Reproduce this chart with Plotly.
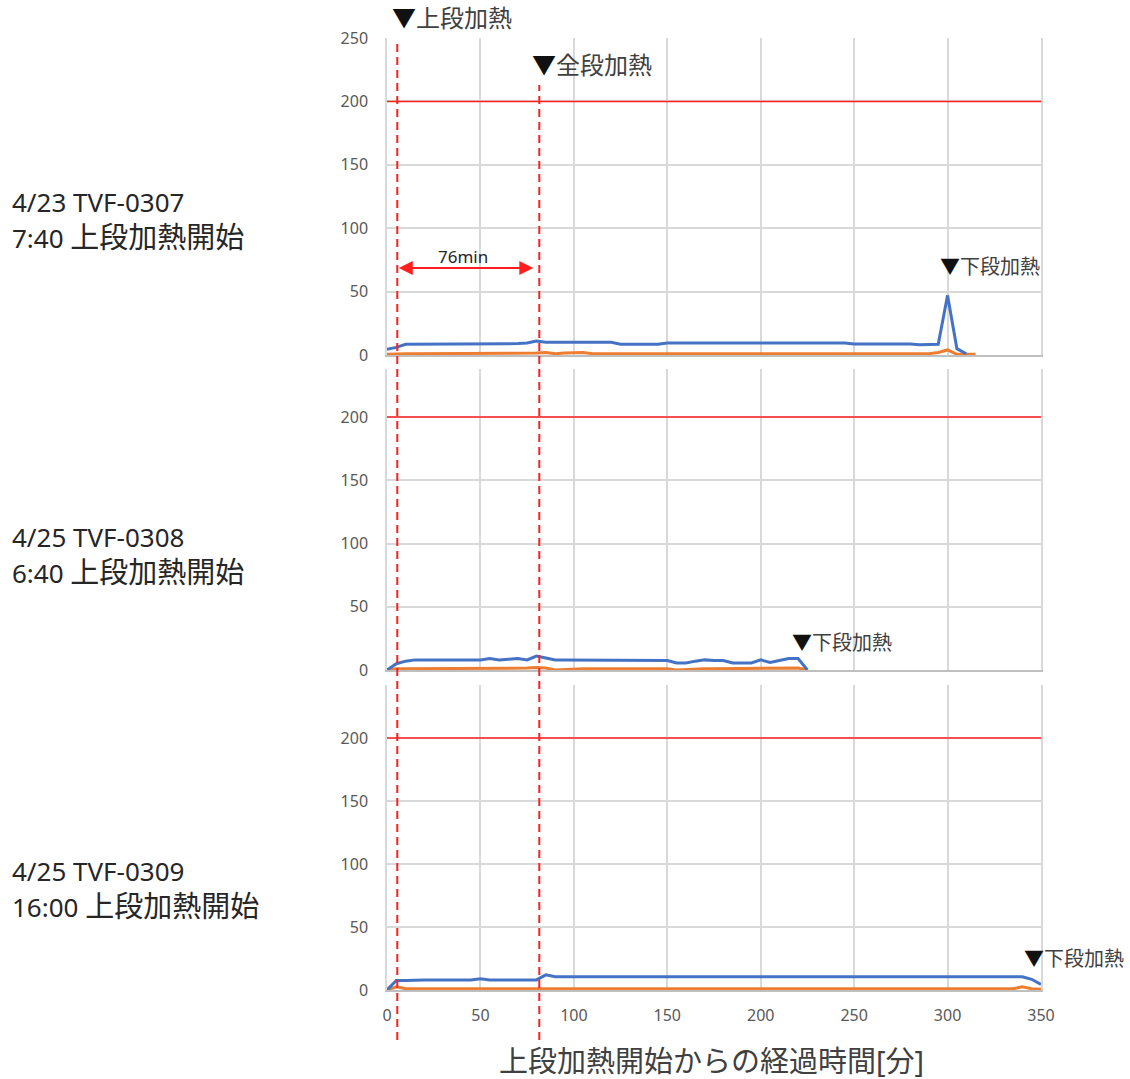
import plotly.graph_objects as go

# ---- measured series (minutes since top-stage heating started) ----
t_0307 = [0, 5, 10, 15, 20, 25, 30, 35, 40, 45, 50, 55, 60, 65, 70, 75,
          80, 85, 90, 95, 100, 105, 110, 115, 120, 125, 130, 135, 140, 145,
          150, 155, 160, 165, 170, 175, 180, 185, 190, 195, 200, 205, 210,
          215, 220, 225, 230, 235, 240, 245, 250, 255, 260, 265, 270, 275,
          280, 285, 290, 295, 300, 305, 310, 315]
blue_0307 = [4.5, 6, 8.5, 8.5, 9, 9, 9, 9, 9, 9, 9, 9, 9, 9, 9, 9.5,
             11, 10, 10, 10, 10, 10, 10, 10, 10, 8.5, 8.5, 8.5, 8.5, 8.5,
             9.5, 9.5, 9.5, 9.5, 9.5, 9.5, 9.5, 9.5, 9.5, 9.5, 9.5, 9.5, 9.5,
             9.5, 9.5, 9.5, 9.5, 9.5, 9.5, 9.5, 8.7, 8.7, 8.7, 8.7, 8.7, 8.7,
             8.7, 8, 8, 8.5, 47, 5, 1, None]
orange_0307 = [0.5, 1, 1, 1, 1, 1, 1, 1, 1, 1, 1, 1, 1, 1, 1, 1,
               1.5, 2, 1, 1.5, 2, 2, 1, 1, 1, 1, 1, 1, 1, 1,
               1, 1, 1, 1, 1, 1, 1, 1, 1, 1, 1, 1, 1,
               1, 1, 1, 1, 1, 1, 1, 1, 1, 1, 1, 1, 1,
               1, 1, 1, 2, 4, 0.5, 0.5, 0.5]

t_0308 = [0, 5, 10, 15, 20, 25, 30, 35, 40, 45, 50, 55, 60, 65, 70, 75,
          80, 85, 90, 95, 100, 105, 110, 115, 120, 125, 130, 135, 140, 145,
          150, 155, 160, 165, 170, 175, 180, 185, 190, 195, 200, 205, 210,
          215, 220, 225]
blue_0308 = [0, 5, 7, 8, 8, 8, 8, 8, 8, 8, 8, 9, 8, 8.5, 9, 8,
             11, 9.5, 8, 8, 8, 7.5, 7.5, 7.5, 7.5, 7.5, 7.5, 7.5, 7.5, 7.5,
             7.5, 5.5, 5.5, 7, 8, 7.5, 7.5, 5.5, 5.5, 5.5, 8, 6, 7.5,
             9, 9, 0]
orange_0308 = [0, 1, 1, 1, 1, 1, 1, 1, 1, 1, 1, 1, 1, 1, 1, 1.5,
               2, 1.5, 0, 0.5, 1, 1, 1, 1, 1, 1, 1, 1, 1, 1,
               1, 0, 0.5, 1, 1, 1, 1, 1, 1, 1, 1, 1, 1,
               1.5, 1.5, 0]

t_0309 = [0, 5, 10, 15, 20, 25, 30, 35, 40, 45, 50, 55, 60, 65, 70, 75,
          80, 85, 90, 95, 100, 105, 110, 115, 120, 125, 130, 135, 140, 145,
          150, 155, 160, 165, 170, 175, 180, 185, 190, 195, 200, 205, 210,
          215, 220, 225, 230, 235, 240, 245, 250, 255, 260, 265, 270, 275,
          280, 285, 290, 295, 300, 305, 310, 315, 320, 325, 330, 335, 340,
          345, 350]
blue_0309 = [0, 7.5, 7.5, 8, 8, 8, 8, 8, 8, 8, 9, 8, 8, 8, 8, 8,
             8, 12, 10.5, 10.5, 10.5, 10.5, 10.5, 10.5, 10.5, 10.5, 10.5, 10.5, 10.5, 10.5,
             10.5, 10.5, 10.5, 10.5, 10.5, 10.5, 10.5, 10.5, 10.5, 10.5, 10.5, 10.5, 10.5,
             10.5, 10.5, 10.5, 10.5, 10.5, 10.5, 10.5, 10.5, 10.5, 10.5, 10.5, 10.5, 10.5,
             10.5, 10.5, 10.5, 10.5, 10.5, 10.5, 10.5, 10.5, 10.5, 10.5, 10.5, 10.5, 10.5,
             8.5, 4.5]
orange_0309 = [0, 2.5, 1, 1, 1, 1, 1, 1, 1, 1, 1, 1, 1, 1, 1, 1,
               1, 1, 1, 1, 1, 1, 1, 1, 1, 1, 1, 1, 1, 1,
               1, 1, 1, 1, 1, 1, 1, 1, 1, 1, 1, 1, 1,
               1, 1, 1, 1, 1, 1, 1, 1, 1, 1, 1, 1, 1,
               1, 1, 1, 1, 1, 1, 1, 1, 1, 1, 1, 1, 2.5,
               1, 0.5]

# ---- reference values ----
LIMIT = 200
LIMIT_X = [0, 350]
T_TOP = 5.5            # top-stage heating
GAP_MIN = 76           # top -> all-stage heating
T_ALL = T_TOP + GAP_MIN

run_ids = ["4/23 TVF-0307", "4/25 TVF-0308", "4/25 TVF-0309"]
run_starts = ["7:40", "6:40", "16:00"]
START_TEXT = "上段加熱開始"
y_tops = [250, 238, 242]
y_ticks = [[0, 50, 100, 150, 200, 250], [0, 50, 100, 150, 200], [0, 50, 100, 150, 200]]
x_ticks = [0, 50, 100, 150, 200, 250, 300, 350]

BLUE = "#4472C4"
ORANGE = "#ED7D31"
RED = "#ff1f1f"
GRID = "#d9d9d9"
FONT = "Noto Sans, Noto Sans CJK JP, sans-serif"

W, H = 1130, 1079
def px(v):
    return 1 - v / H

x_dom = [387 / W, 1041 / W]
# panel pixel extents (top, bottom)
panels_px = [(38, 355), (369, 670), (685, 990)]

series = [(t_0307, blue_0307, orange_0307),
          (t_0308, blue_0308, orange_0308),
          (t_0309, blue_0309, orange_0309)]

fig = go.Figure()
for i, (t, b, o) in enumerate(series):
    n = "" if i == 0 else str(i + 1)
    fig.add_trace(go.Scatter(x=LIMIT_X, y=[LIMIT, LIMIT], mode="lines",
                             line=dict(color=RED, width=1.5),
                             xaxis="x" + n, yaxis="y" + n, showlegend=False))
    fig.add_trace(go.Scatter(x=t, y=o, mode="lines",
                             line=dict(color=ORANGE, width=3),
                             xaxis="x" + n, yaxis="y" + n, showlegend=False))
    fig.add_trace(go.Scatter(x=t, y=b, mode="lines",
                             line=dict(color=BLUE, width=3),
                             xaxis="x" + n, yaxis="y" + n, showlegend=False))

layout = dict(width=W, height=H, margin=dict(l=0, r=0, t=0, b=0),
              plot_bgcolor="white", paper_bgcolor="white",
              font=dict(family=FONT, color="#595959", size=16))

for i in range(3):
    n = "" if i == 0 else str(i + 1)
    top, bot = panels_px[i]
    layout["xaxis" + n] = dict(
        domain=x_dom, range=[0, 350], anchor="y" + n,
        tickvals=x_ticks, showticklabels=(i == 2),
        showgrid=True, gridcolor=GRID, gridwidth=1.5,
        showline=True, linecolor="#bfbfbf", linewidth=1.5,
        zeroline=False, ticks="", ticklabelstandoff=10, automargin=False,
        tickfont=dict(size=16, color="#595959"))
    layout["yaxis" + n] = dict(
        domain=[px(bot), px(top)], range=[0, y_tops[i]], anchor="x" + n,
        tickvals=y_ticks[i], showgrid=True, gridcolor=GRID, gridwidth=1.5,
        showline=True, linecolor=GRID, linewidth=1.5, mirror=True,
        zeroline=False, ticks="", ticklabelstandoff=14, automargin=False,
        tickfont=dict(size=16, color="#595959"))

fig.update_layout(**layout)

# heating-start dashed markers spanning all panels
fig.add_shape(type="line", xref="x3", yref="paper", x0=T_TOP, x1=T_TOP,
              y0=px(1040), y1=px(40), line=dict(color=RED, width=2, dash="8px,5px"))
fig.add_shape(type="line", xref="x3", yref="paper", x0=T_ALL, x1=T_ALL,
              y0=px(1040), y1=px(85), line=dict(color=RED, width=2, dash="8px,5px"))

ann = []
# interval arrow
ann.append(dict(x=T_ALL, y=68.6, ax=T_TOP, ay=68.6, xref="x", yref="y",
                axref="x", ayref="y", text="", showarrow=True,
                arrowside="end+start", arrowhead=2, arrowsize=1.4,
                arrowwidth=2, arrowcolor=RED, standoff=6))
ann.append(dict(x=(T_TOP + T_ALL) / 2 - 3, y=78, xref="x", yref="y",
                text=f"{GAP_MIN}min", showarrow=False,
                font=dict(size=17, color="#262626")))

tri = "<span style='color:#111'>▼</span>"
ann.append(dict(x=390 / W, y=px(18), xref="paper", yref="paper",
                xanchor="left", yanchor="middle", showarrow=False,
                text=tri + "上段加熱", font=dict(size=24, color="#404040")))
ann.append(dict(x=530 / W, y=px(64), xref="paper", yref="paper",
                xanchor="left", yanchor="middle", showarrow=False,
                text=tri + "全段加熱", font=dict(size=24, color="#404040")))

bh_px = [(938, 267), (790, 642), (1022, 958)]
for (lx, ly) in bh_px:
    ann.append(dict(x=lx / W, y=px(ly), xref="paper", yref="paper",
                    xanchor="left", yanchor="middle", showarrow=False,
                    text=tri + "下段加熱", font=dict(size=20, color="#404040")))

label_px = [(202, 236), (537, 571), (871, 905)]
for rid, rst, (y1, y2) in zip(run_ids, run_starts, label_px):
    ann.append(dict(x=10 / W, y=px(y1), xref="paper", yref="paper",
                    xanchor="left", yanchor="middle", showarrow=False,
                    text=rid, font=dict(size=26, color="#262626")))
    ann.append(dict(x=10 / W, y=px(y2), xref="paper", yref="paper",
                    xanchor="left", yanchor="middle", showarrow=False,
                    text=f"{rst} <span style='font-size:29px'>{START_TEXT}</span>",
                    font=dict(size=26, color="#262626")))

ann.append(dict(x=711 / W, y=px(1060), xref="paper", yref="paper",
                xanchor="center", yanchor="middle", showarrow=False,
                text="上段加熱開始からの経過時間[分]",
                font=dict(size=29, color="#404040")))

fig.update_layout(annotations=ann)
# let the figure sit flush in the page
fig.write_html("out.html",
               post_script="document.body.style.margin='0';"
                           "document.body.style.overflow='hidden';")
